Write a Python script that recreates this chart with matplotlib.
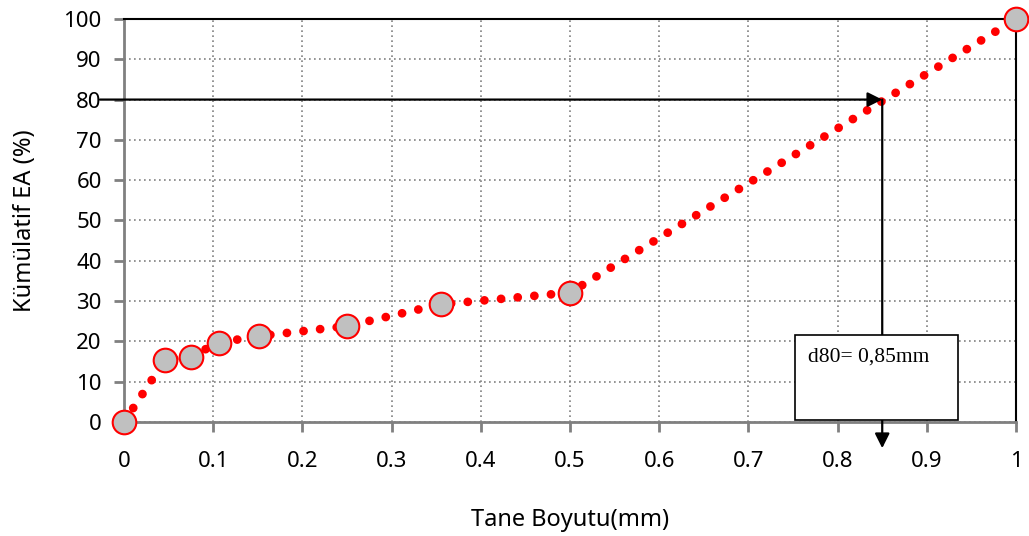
import matplotlib
matplotlib.use("Agg")
import matplotlib.pyplot as plt
from matplotlib.patches import Rectangle

# grain size (mm) vs cumulative percentage
size_mm = [0.0, 0.046, 0.075, 0.106, 0.151, 0.250, 0.355, 0.500, 1.0]
cum_pct = [0.0, 15.4, 16.2, 19.7, 21.3, 23.8, 29.2, 32.1, 100.0]

d80_size = 0.85
d80_pct = 80
d80_text = "d80= 0,85mm"

x_ticks = [0, 0.1, 0.2, 0.3, 0.4, 0.5, 0.6, 0.7, 0.8, 0.9, 1]
x_tick_labels = ["0", "0.1", "0.2", "0.3", "0.4", "0.5", "0.6", "0.7", "0.8", "0.9", "1"]
y_ticks = [0, 10, 20, 30, 40, 50, 60, 70, 80, 90, 100]

plt.rcParams['font.family'] = ['Noto Sans', 'DejaVu Sans']

fig = plt.figure(figsize=(10.29, 5.36), dpi=100)
ax = fig.add_axes([0.1205, 0.2127, 0.8669, 0.7519])

# dotted red connecting line
ax.plot(size_mm, cum_pct, color='red', lw=6.3, linestyle=(0, (0.01, 1.9)),
        dash_capstyle='round', zorder=3, clip_on=False)
# measured points
ax.plot(size_mm, cum_pct, linestyle='none', marker='o', ms=17,
        mfc='#c0c0c0', mec='red', mew=1.5, zorder=5, clip_on=False)

ax.set_xlim(0, 1)
ax.set_ylim(0, 100)
ax.set_xticks(x_ticks)
ax.set_xticklabels(x_tick_labels)
ax.set_yticks(y_ticks)
ax.grid(True, color='#808080', linestyle=(0, (1, 2)), lw=1.2)
ax.set_axisbelow(True)

for side in ('left', 'bottom'):
    ax.spines[side].set_color('#808080')
    ax.spines[side].set_linewidth(2)
for side in ('top', 'right'):
    ax.spines[side].set_color('black')
    ax.spines[side].set_linewidth(1.5)

ax.tick_params(axis='both', colors='#808080', labelcolor='black',
               labelsize=16, length=7, width=2)
ax.tick_params(axis='x', pad=14)
ax.tick_params(axis='y', pad=9)

ax.set_xlabel("Tane Boyutu(mm)", fontsize=17, labelpad=26)
ax.set_ylabel("Kümülatif EA (%)", fontsize=17, labelpad=19)

arrow = dict(arrowstyle='-|>', color='black', lw=1.6, mutation_scale=22,
             shrinkA=0, shrinkB=0)
# d80 reading: horizontal from the y axis, vertical down to the size axis
ax.annotate("", xy=(d80_size, d80_pct), xytext=(-0.027, d80_pct),
            arrowprops=arrow, annotation_clip=False, zorder=4)
ax.annotate("", xy=(d80_size, -6.5), xytext=(d80_size, d80_pct),
            arrowprops=arrow, annotation_clip=False, zorder=4)

box = Rectangle((0.752, 0.5), 0.183, 21.1, facecolor='white',
                edgecolor='black', lw=1.2, zorder=6)
ax.add_patch(box)
ax.text(0.767, 16.2, d80_text, family='Liberation Serif', fontsize=15.5,
        va='center', ha='left', zorder=7)

fig.savefig("out.png", dpi=100)
